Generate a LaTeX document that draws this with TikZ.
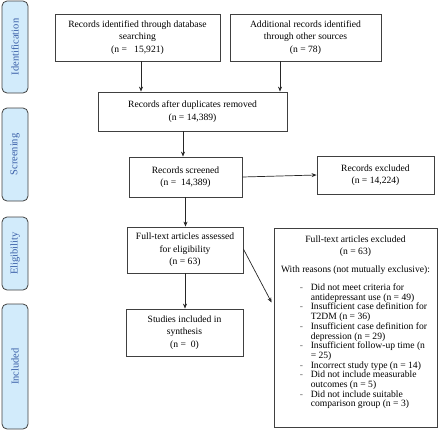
\documentclass[tikz,border=0pt]{standalone}
\usepackage{fontspec}
\setmainfont{Liberation Serif}
\usetikzlibrary{arrows.meta,calc}
\definecolor{sidefill}{HTML}{D2EBFB}
\definecolor{sidetext}{HTML}{3A5FA8}
\definecolor{edge}{HTML}{404040}
\newcommand{\dashitem}{\makebox[11pt][l]{\textcolor{black!60}{-}}}
\newcommand{\contitem}{\hspace*{11pt}}
\tikzset{
  box/.style={draw=edge, line width=0.8pt, fill=white, align=center, inner sep=0pt,
    font=\fontsize{9.6}{12.4}\selectfont},
  side/.style={draw=edge, line width=0.8pt, fill=sidefill, rounded corners=5pt,
    minimum width=26pt, text=sidetext, font=\fontsize{10.5}{12}\selectfont, inner sep=0pt},
  arr/.style={draw=black!85, line width=0.7pt, -{Stealth[length=5pt,width=4pt]}},
  plain/.style={inner sep=0pt, align=center, font=\fontsize{9.6}{12}\selectfont}
}
\begin{document}
\begin{tikzpicture}[x=1pt,y=-1pt]
\useasboundingbox (0,0) rectangle (438,440);
% side labels
\node[side, minimum height=92pt] (sid) at (15,47) {\rotatebox{90}{Identification}};
\node[side, minimum height=93pt] (sscr) at (15,154.5) {\rotatebox{90}{Screening}};
\node[side, minimum height=73pt] (selig) at (15,253.5) {\rotatebox{90}{Eligibility}};
\node[side, minimum height=125pt] (sinc) at (15,366.5) {\rotatebox{90}{Included}};
% boxes
\node[box, minimum width=165pt, minimum height=47pt] (db) at (137.5,37.5)
  {Records identified through database\\searching\\(n =\ \ \ 15,921)};
\node[box, minimum width=151pt, minimum height=47pt] (add) at (305.5,37.5)
  {Additional records identified\\through other sources\\(n = 78)};
\node[box, minimum width=189pt, minimum height=39pt] (dup) at (192.5,111.5)
  {Records after duplicates removed\\(n = 14,389)};
\node[box, minimum width=113pt, minimum height=40pt] (scr) at (185.5,177)
  {Records screened\\(n =\ \ 14,389)};
\node[box, minimum width=117pt, minimum height=38pt] (excl) at (375.5,175)
  {Records excluded\\(n = 14,224)};
\node[box, minimum width=116pt, minimum height=46pt] (full) at (185,250)
  {Full-text articles assessed\\for eligibility\\(n = 63)};
\node[box, minimum width=117pt, minimum height=47pt] (inc) at (184.5,332.5)
  {Studies included in\\synthesis\\(n =\ \ 0)};
\node[box, minimum width=163pt, minimum height=199pt] (ftex) at (355.5,327.5) {};
\node[plain, anchor=north] (ftexhead) at ([yshift=-8pt]ftex.north)
  {Full-text articles excluded\\(n = 63)\\[6pt]With reasons (not mutually exclusive):};
\node[inner sep=0pt, anchor=north west, align=left, font=\fontsize{9.6}{9.7}\selectfont] (ftexlist)
  at ($(ftex.north west)+(26,56)$)
  {\dashitem Did not meet criteria for\\
   \contitem antidepressant use (n = 49)\\
   \dashitem Insufficient case definition for\\
   \contitem T2DM (n = 36)\\
   \dashitem Insufficient case definition for\\
   \contitem depression (n = 29)\\
   \dashitem Insufficient follow-up time (n\\
   \contitem = 25)\\
   \dashitem Incorrect study type (n = 14)\\
   \dashitem Did not include measurable\\
   \contitem outcomes (n = 5)\\
   \dashitem Did not include suitable\\
   \contitem comparison group (n = 3)};
% arrows
\draw[arr] ([xshift=3.5pt]db.south) -- ([xshift=3.5pt]db.south |- dup.north);
\draw[arr] ([xshift=-25.5pt]add.south) -- ([xshift=-25.5pt]add.south |- dup.north);
\draw[arr] ([xshift=-9.5pt]dup.south) -- ([xshift=-9.5pt]dup.south |- scr.north);
\draw[arr] (scr.east) -- (excl.west);
\draw[arr] (scr.south) -- (scr.south |- full.north);
\draw[arr] (full.south) -- (full.south |- inc.north);
\draw[arr] ([yshift=1pt]full.east) -- ([xshift=-2pt,yshift=25pt]ftex.west);
\end{tikzpicture}
\end{document}
